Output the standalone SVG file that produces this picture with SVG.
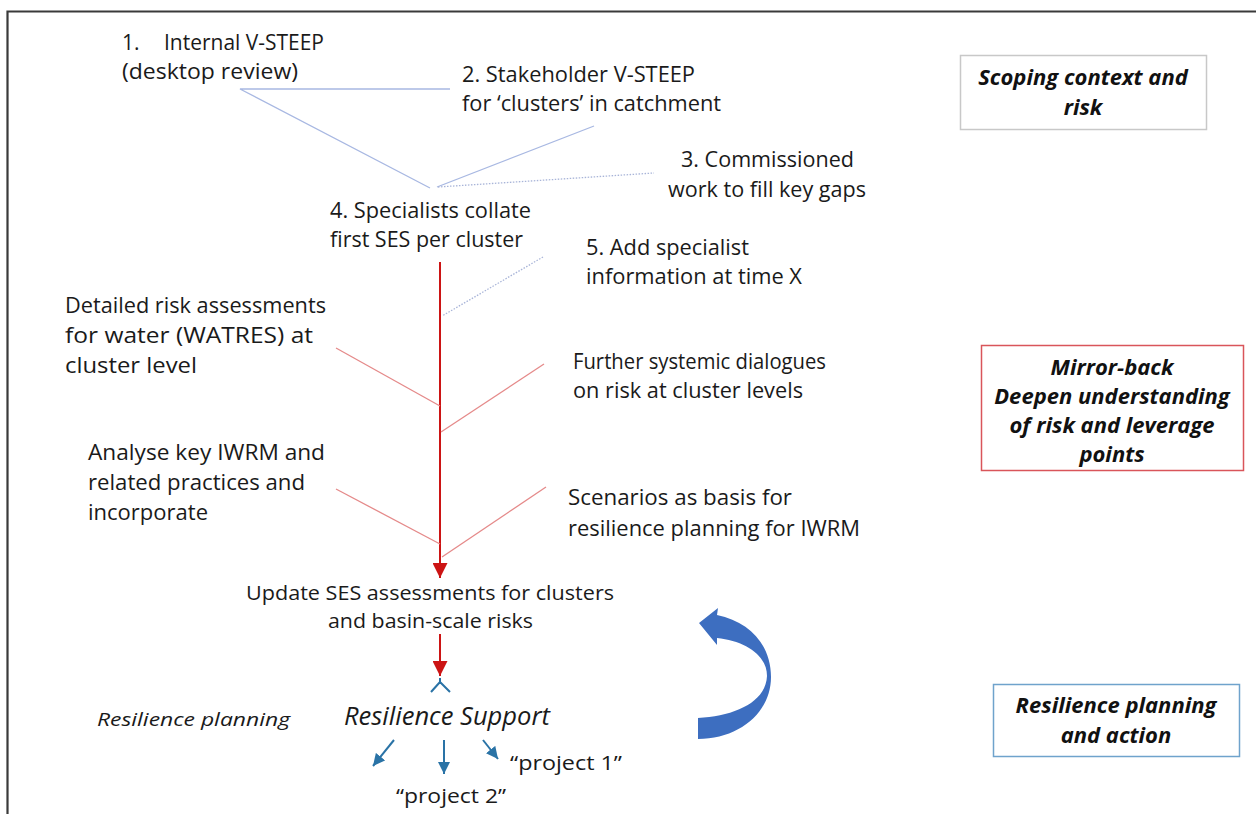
<svg xmlns="http://www.w3.org/2000/svg" width="1256" height="814" viewBox="0 0 1256 814">
<defs>
<style>
.t{font-family:"Open Sans","Liberation Sans",sans-serif;font-size:21px;fill:#1a1a1a}
.u{font-family:"Open Sans","Liberation Sans",sans-serif;font-size:20px;fill:#1a1a1a}
.ti{font-family:"Open Sans","Liberation Sans",sans-serif;font-style:italic;fill:#1a1a1a}
.b{font-family:"Open Sans","Liberation Sans",sans-serif;font-style:italic;font-weight:bold;font-size:22px;fill:#111;text-anchor:middle}
.blue{stroke:#a8b8e2;stroke-width:1.3;fill:none}
.dot{stroke:#a8b4d8;stroke-width:1.3;stroke-dasharray:1.5 1.5;fill:none}
.red{stroke:#e58a8a;stroke-width:1.3;fill:none}
.main{stroke:#cc1414;stroke-width:2;fill:none}
.teal{stroke:#2a73a6;stroke-width:2;fill:none}
</style>
<marker id="ar" viewBox="0 0 10 10" refX="10" refY="5" markerWidth="7.5" markerHeight="7.5" orient="auto" markerUnits="strokeWidth">
<path d="M0,0 L10,5 L0,10 Z" fill="#cc1414"/>
</marker>
<marker id="at" viewBox="0 0 10 10" refX="10" refY="5" markerWidth="6" markerHeight="6" orient="auto" markerUnits="strokeWidth">
<path d="M0,0 L10,5 L0,10 Z" fill="#2a73a6"/>
</marker>
</defs>
<rect width="1256" height="814" fill="#fff"/>
<g id="frame"><path d="M7.5,814 V11.5 H1256" stroke="#3a3a3a" stroke-width="2.2" fill="none"/></g>

<g id="connectors">
<path class="blue" d="M450,89 H240 L430,188"/>
<path class="blue" d="M594,126 L437,187"/>
<path class="dot" d="M438,187 L654,173"/>
<path class="dot" d="M543,257 L442,316"/>
<path class="main" d="M440,262 V578" marker-end="url(#ar)"/>
<path class="red" d="M336,348 L440,406"/>
<path class="red" d="M544,364 L441,432"/>
<path class="red" d="M336,489 L440,544"/>
<path class="red" d="M546,487 L442,557"/>
<path class="main" d="M440,634 V676" marker-end="url(#ar)"/>
<path class="teal" stroke-width="1.6" d="M440,678 V684 M440,682 L431,692 M440,682 L450,692"/>
<path class="teal" d="M394,740 L373,766" marker-end="url(#at)"/>
<path class="teal" d="M444,740 V774" marker-end="url(#at)"/>
<path class="teal" d="M483,740 L498,759" marker-end="url(#at)"/>
<path d="M699,623 L718,608 L717,615 C750,622 771,645 771,677 C771,712 740,739 698,739 L698,718 C735,716 766,702 767,676 C767,655 745,641 717,638 L717,645 Z" fill="#3d6ec0"/>
</g>

<g id="n1"><text class="t" x="122" y="50">1.</text><text class="t" x="164" y="50" textLength="160" lengthAdjust="spacingAndGlyphs">Internal V-STEEP</text>
<text class="t" x="122" y="79" textLength="176" lengthAdjust="spacingAndGlyphs">(desktop review)</text></g>
<g id="n2"><text class="t" x="462" y="82" textLength="233" lengthAdjust="spacingAndGlyphs">2. Stakeholder V-STEEP</text>
<text class="t" x="462" y="111" textLength="259" lengthAdjust="spacingAndGlyphs">for ‘clusters’ in catchment</text></g>
<g id="n3"><text class="t" x="681" y="167" textLength="173" lengthAdjust="spacingAndGlyphs">3. Commissioned</text>
<text class="t" x="668" y="197" textLength="198" lengthAdjust="spacingAndGlyphs">work to fill key gaps</text></g>
<g id="n4"><text class="t" x="330" y="218" textLength="201" lengthAdjust="spacingAndGlyphs">4. Specialists collate</text>
<text class="t" x="330" y="247" textLength="193" lengthAdjust="spacingAndGlyphs">first SES per cluster</text></g>
<g id="n5"><text class="t" x="586" y="255" textLength="163" lengthAdjust="spacingAndGlyphs">5. Add specialist</text>
<text class="t" x="586" y="284" textLength="216" lengthAdjust="spacingAndGlyphs">information at time X</text></g>
<g id="n6"><text class="t" x="65" y="313" textLength="261" lengthAdjust="spacingAndGlyphs">Detailed risk assessments</text>
<text class="t" x="65" y="343" textLength="248" lengthAdjust="spacingAndGlyphs">for water (WATRES) at</text>
<text class="t" x="65" y="373" textLength="132" lengthAdjust="spacingAndGlyphs">cluster level</text></g>
<g id="n7"><text class="t" x="573" y="369" textLength="253" lengthAdjust="spacingAndGlyphs">Further systemic dialogues</text>
<text class="t" x="573" y="398" textLength="230" lengthAdjust="spacingAndGlyphs">on risk at cluster levels</text></g>
<g id="n8"><text class="t" x="88" y="460" textLength="237" lengthAdjust="spacingAndGlyphs">Analyse key IWRM and</text>
<text class="t" x="88" y="490" textLength="217" lengthAdjust="spacingAndGlyphs">related practices and</text>
<text class="t" x="88" y="520" textLength="120" lengthAdjust="spacingAndGlyphs">incorporate</text></g>
<g id="n9"><text class="t" x="568" y="505" textLength="224" lengthAdjust="spacingAndGlyphs">Scenarios as basis for</text>
<text class="t" x="568" y="536" textLength="292" lengthAdjust="spacingAndGlyphs">resilience planning for IWRM</text></g>
<g id="n10"><text class="u" x="246" y="600" textLength="368" lengthAdjust="spacingAndGlyphs">Update SES assessments for clusters</text>
<text class="u" x="328" y="628" textLength="205" lengthAdjust="spacingAndGlyphs">and basin-scale risks</text></g>
<g id="n11"><text class="ti" x="344" y="725" font-size="26" textLength="206" lengthAdjust="spacingAndGlyphs">Resilience Support</text></g>
<g id="n12"><text class="ti" x="97" y="726" font-size="19" textLength="193" lengthAdjust="spacingAndGlyphs">Resilience planning</text></g>
<g id="n13"><text class="u" x="510" y="770" textLength="112" lengthAdjust="spacingAndGlyphs">“project 1”</text></g>
<g id="n14"><text class="u" x="396" y="803" textLength="110" lengthAdjust="spacingAndGlyphs">“project 2”</text></g>

<g id="box1"><rect x="960.5" y="55.5" width="246" height="74" fill="#fff" stroke="#c8c8c8" stroke-width="1.5"/>
<text class="b" x="1083" y="85">Scoping context and</text><text class="b" x="1083" y="115">risk</text></g>
<g id="box2"><rect x="981.5" y="345.5" width="262" height="125" fill="#fff" stroke="#d9555a" stroke-width="1.5"/>
<text class="b" x="1112" y="375">Mirror-back</text><text class="b" x="1112" y="404">Deepen understanding</text>
<text class="b" x="1112" y="433">of risk and leverage</text><text class="b" x="1112" y="462">points</text></g>
<g id="box3"><rect x="993.5" y="684.5" width="246" height="72" fill="#fff" stroke="#6fa3cc" stroke-width="1.5"/>
<text class="b" x="1116" y="713">Resilience planning</text><text class="b" x="1116" y="743">and action</text></g>
</svg>
